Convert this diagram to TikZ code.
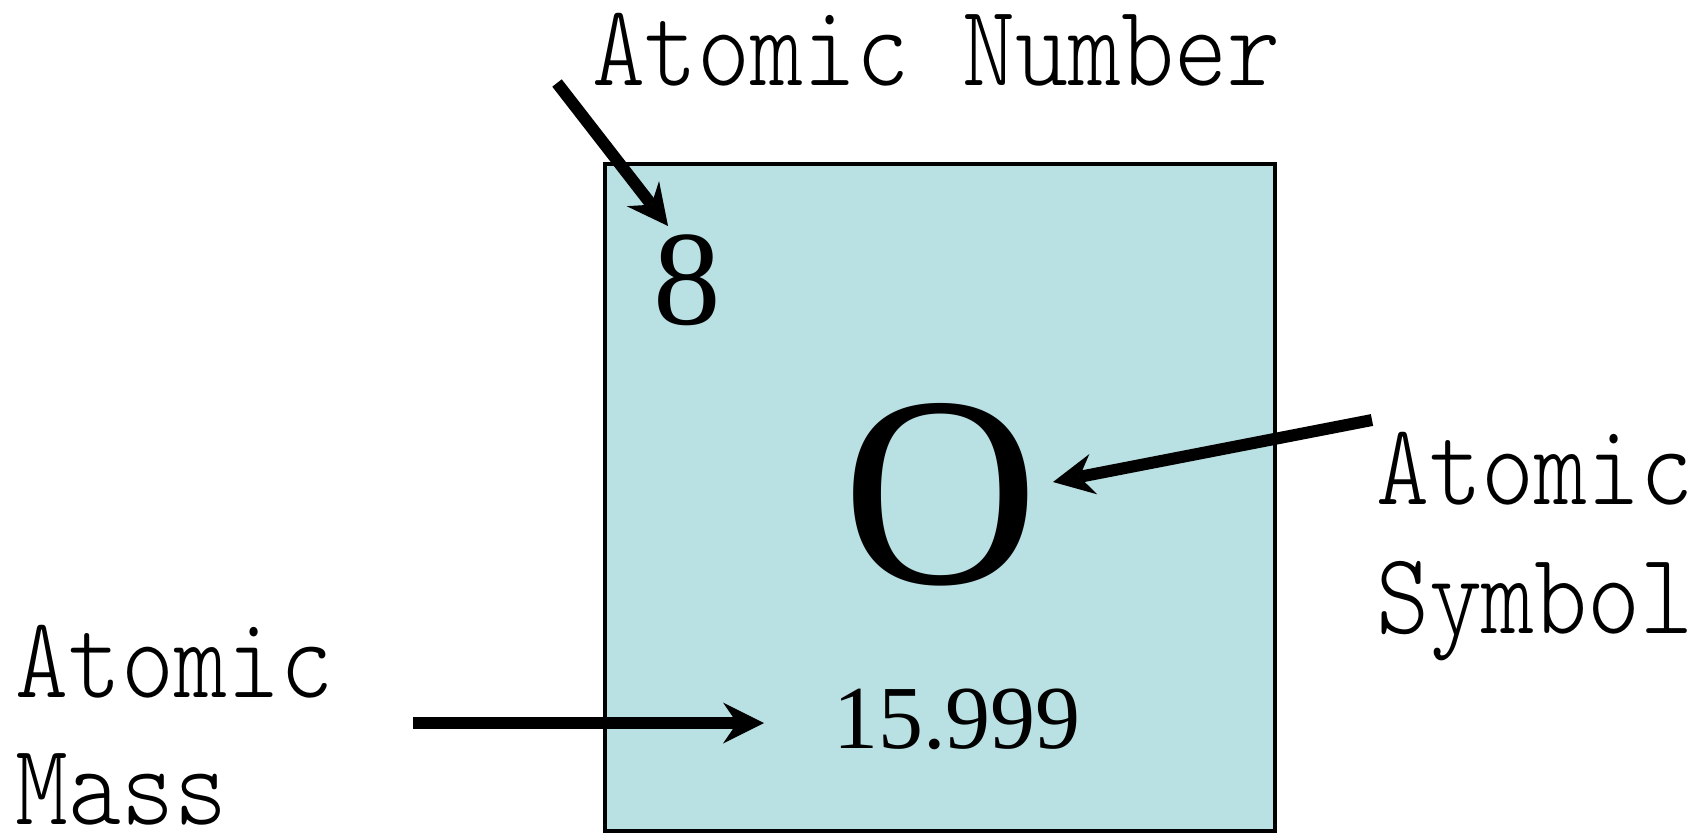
\documentclass[tikz,border=0pt]{standalone}
\usepackage{fontspec}
\newfontfamily\numfont{Liberation Serif}
\newfontfamily\lblfont{lmmonolt10-regular.otf}
\usetikzlibrary{arrows.meta}
\definecolor{boxfill}{RGB}{185,224,227}
\newcommand\lbltext[1]{\scalebox{0.87}[1]{\fontsize{116}{116}\selectfont\lblfont #1}}
\begin{document}
\begin{tikzpicture}[x=1pt,y=-1pt,
  arr/.style={line width=12pt, -{Stealth[length=41pt,width=41pt,inset=14pt,line width=0pt]}},
  lab/.style={anchor=base west, inner sep=0pt, outer sep=0pt},
  num/.style={anchor=base, inner sep=0pt, outer sep=0pt}]
\useasboundingbox (0,0) rectangle (1699,835);
\node[draw, line width=3.5pt, fill=boxfill, minimum width=670pt, minimum height=667pt,
      inner sep=0pt, outer sep=0pt, anchor=north west] (box) at (605,164) {};
\node[num] (eight) at (687,324) {\fontsize{135}{135}\selectfont\numfont 8};
\node[num] (sym) at (941,583) {\fontsize{272}{272}\selectfont\numfont O};
\node[num] (mass) at (957,748) {\fontsize{90}{90}\selectfont\numfont 15.999};
\node[lab] (numlbl) at (592,85) {\lbltext{Atomic Number}};
\node[lab] (symlbl1) at (1376,504) {\lbltext{Atomic}};
\node[lab] (symlbl2) at (1376,633) {\lbltext{Symbol}};
\node[lab] (masslbl1) at (16,697) {\lbltext{Atomic}};
\node[lab] (masslbl2) at (16,824) {\lbltext{Mass}};
\coordinate (nA) at (557,83);
\coordinate (nB) at (668,226);
\coordinate (sA) at (1372,420);
\coordinate (sB) at (1053,482);
\coordinate (mA) at (413,723);
\coordinate (mB) at (764,723);
\draw[arr] (nA) -- (nB);
\draw[arr] (sA) -- (sB);
\draw[arr] (mA) -- (mB);
\end{tikzpicture}
\end{document}
